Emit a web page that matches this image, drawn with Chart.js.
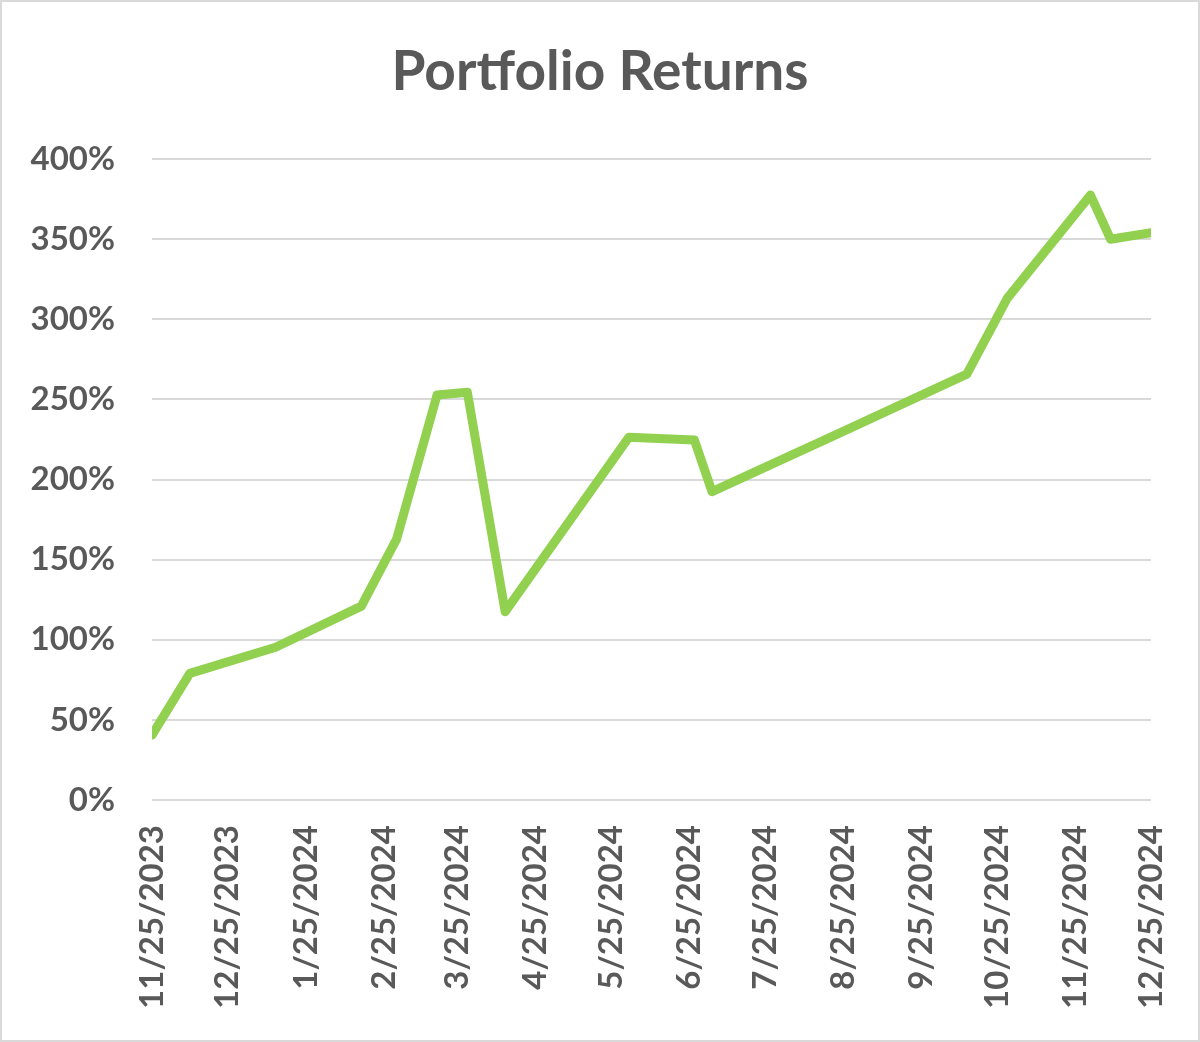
<!DOCTYPE html>
<html>
<head>
<meta charset="utf-8">
<title>Portfolio Returns</title>
<script src="https://cdn.jsdelivr.net/npm/chart.js@4"></script>
<style>
  html, body { margin: 0; padding: 0; background: #fff; }
  #wrap { width: 1200px; height: 1042px; position: relative; }
</style>
</head>
<body>
<div id="wrap"><canvas id="myChart"></canvas></div>
<script>
// data
const dates = [
    '11/25/2023', '12/10/2023', '1/13/2024', '2/16/2024', '3/1/2024',
    '3/17/2024', '3/29/2024', '4/13/2024', '6/1/2024', '6/27/2024',
    '7/4/2024', '8/22/2024', '10/13/2024', '10/29/2024', '12/1/2024',
    '12/9/2024', '12/25/2024'
];
const returns = [
    40.5, 79, 95.3, 121, 163,
    252.7, 254.4, 117.5, 226.3, 224.6,
    192.4, 227.8, 265.8, 313, 377.5,
    349.9, 354
];
const tickLabels = [
    '11/25/2023', '12/25/2023', '1/25/2024', '2/25/2024', '3/25/2024',
    '4/25/2024', '5/25/2024', '6/25/2024', '7/25/2024', '8/25/2024',
    '9/25/2024', '10/25/2024', '11/25/2024', '12/25/2024'
];

const ctx = document.querySelector('#myChart');
const textColor = '#595959';
const font = 'Lato, "Noto Sans", sans-serif';

function toDay(str) {
    const p = str.split('/');
    const t = Date.UTC(+p[2], +p[0] - 1, +p[1]);
    const p0 = tickLabels[0].split('/');
    const t0 = Date.UTC(+p0[2], +p0[0] - 1, +p0[1]);
    return Math.round((t - t0) / 86400000);
}

const tickDays = tickLabels.map(toDay);
const points = dates.map((d, i) => ({ x: toDay(d), y: returns[i] }));

const frame = {
    id: 'frame',
    beforeDraw(chart) {
        const c = chart.ctx;
        c.save();
        c.fillStyle = '#fff';
        c.fillRect(0, 0, chart.width, chart.height);
        c.strokeStyle = '#d9d9d9';
        c.lineWidth = 2;
        c.strokeRect(1, 1, chart.width - 2, chart.height - 2);
        c.restore();
    }
};

new Chart(ctx, {
    type: 'line',
    data: {
        datasets: [{
            label: 'Portfolio Returns',
            data: points,
            borderColor: '#92D050',
            borderWidth: 9,
            pointRadius: 0,
            tension: 0,
            fill: false,
            borderJoinStyle: 'round',
            borderCapStyle: 'round'
        }]
    },
    options: {
        responsive: true,
        maintainAspectRatio: false,
        animation: false,
        layout: { padding: 0 },
        plugins: {
            legend: { display: false },
            tooltip: { enabled: false },
            title: {
                display: true,
                text: 'Portfolio Returns',
                color: textColor,
                font: { family: font, size: 55, weight: 'bold', lineHeight: 1.2 },
                padding: { top: 39, bottom: 54 }
            }
        },
        scales: {
            x: {
                type: 'linear',
                min: tickDays[0],
                max: tickDays[tickDays.length - 1],
                afterBuildTicks(scale) {
                    scale.ticks = tickDays.map(v => ({ value: v }));
                },
                afterFit(scale) {
                    scale.height = 242;
                    scale.paddingLeft = 0;
                    scale.paddingRight = 49;
                },
                grid: { display: false, drawTicks: false },
                border: { display: false },
                ticks: {
                    autoSkip: false,
                    minRotation: 90,
                    maxRotation: 90,
                    padding: 25,
                    color: textColor,
                    font: { family: font, size: 33, weight: 'bold' },
                    callback: (v) => tickLabels[tickDays.indexOf(v)]
                }
            },
            y: {
                min: 0,
                max: 400,
                afterFit(scale) { scale.width = 152; },
                grid: { color: '#d9d9d9', lineWidth: 2, drawTicks: false },
                border: { display: false },
                ticks: {
                    stepSize: 50,
                    padding: 37,
                    color: textColor,
                    font: { family: font, size: 33, weight: 'bold' },
                    callback: (v) => v + '%'
                }
            }
        }
    },
    plugins: [frame]
});
</script>
</body>
</html>
